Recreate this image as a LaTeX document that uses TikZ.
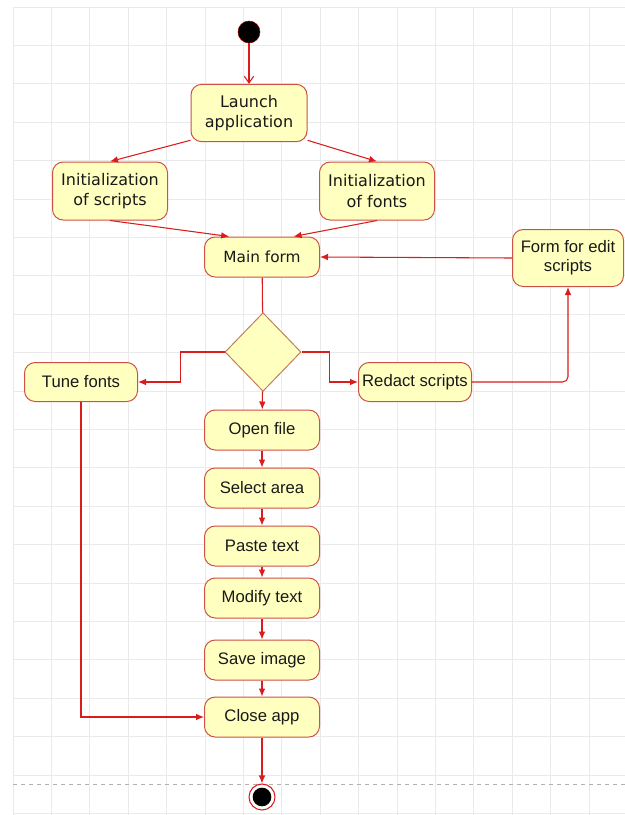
\documentclass[tikz,border=0pt]{standalone}
\usepackage{fontspec}
\setmainfont{Liberation Sans}
\newfontfamily\verdanafont{DejaVu Sans}
\usetikzlibrary{shapes.geometric,arrows.meta}

\definecolor{actfill}{RGB}{255,255,192}
\definecolor{boxred}{RGB}{206,80,70}
\definecolor{diamondedge}{RGB}{190,128,92}
\definecolor{linered}{RGB}{218,28,28}
\definecolor{gridgray}{RGB}{234,234,234}
\definecolor{textgray}{RGB}{25,25,25}

\tikzset{
  activity/.style={rectangle, rounded corners=8pt, draw=boxred, fill=actfill,
    text=textgray, align=center, inner sep=2pt, line width=0.75pt,
    minimum width=86.25pt, minimum height=30pt,
    font=\fontsize{12.5}{14.5}\selectfont},
  bigactivity/.style={activity, minimum height=43pt,
    font=\verdanafont\fontsize{12}{15.5}\selectfont},
  flow/.style={draw=linered, line width=0.8pt, -{Latex[length=6pt,width=5pt]}},
}

\begin{document}
\begin{tikzpicture}[x=0.75pt,y=0.75pt,yscale=-1,xscale=1]
  \useasboundingbox (0,0) rectangle (625,815);
  % background grid
  \draw[gridgray, line width=0.6pt, shift={(13,7)}, step=38.4] (0,0) grid (612,808);
  \draw[gray!60, dashed, line width=0.6pt] (13,784) -- (625,784);

  % nodes
  \node[circle, fill=black, draw={rgb,255:red,150;green,0;blue,0}, minimum size=16.5pt, inner sep=0pt] (start) at (249,32) {};
  \node[bigactivity, minimum width=87pt] (launch) at (249,113) {Launch\\application};
  \node[bigactivity, minimum height=43.5pt] (initscr) at (110,191) {Initialization\\of scripts};
  \node[bigactivity, minimum height=43.5pt] (initfnt) at (377,191) {Initialization\\of fonts};
  \node[activity, font=\verdanafont\fontsize{11.5}{14}\selectfont] (mainform) at (262,257) {Main form};
  \node[activity, minimum width=83.25pt, minimum height=42.75pt] (editform) at (568,258) {Form for edit\\scripts};
  \node[diamond, draw=diamondedge, fill=actfill, line width=0.75pt, inner sep=0pt, minimum width=57pt, minimum height=59pt] (decide) at (263,352) {};
  \node[activity, minimum width=84.75pt, minimum height=29.25pt] (tune) at (81,382) {Tune fonts};
  \node[activity, minimum width=84.75pt, minimum height=29.25pt] (redact) at (415,382) {Redact scripts};
  \node[activity] (openfile) at (262,430) {Open file};
  \node[activity] (selarea) at (262,488) {Select area};
  \node[activity] (paste) at (262,546) {Paste text};
  \node[activity] (modify) at (262,598) {Modify text};
  \node[activity] (saveimg) at (262,660) {Save image};
  \node[activity] (closeapp) at (262,717) {Close app};
  \node[circle, draw=linered, fill=white, line width=0.8pt, minimum size=19.5pt, inner sep=0pt,
    path picture={\fill[black] (path picture bounding box.center) circle (7pt);}] (finish) at (262,797) {};

  % connectors
  \draw[draw=linered, line width=0.8pt, -{Straight Barb[length=5pt,width=7pt]}] (start) -- (launch);
  \draw[flow] (launch.205) -- (initscr.north);
  \draw[flow] (launch.335) -- (initfnt.north);
  \draw[flow] (initscr.south) -- (mainform.148);
  \draw[flow] (initfnt.south) -- (mainform.33);
  \draw[flow] (editform.west) -- (mainform.east);
  \draw[draw=linered, line width=0.8pt] (mainform) -- (decide);
  \draw[flow] (decide.west) -- ++(-44,0) |- (tune.east);
  \draw[flow] (decide.east) -- ++(28,0) |- (redact.west);
  \draw[flow, rounded corners=4pt] (redact.east) -| (editform.south);
  \draw[flow] (decide) -- (openfile);
  \draw[flow] (openfile) -- (selarea);
  \draw[flow] (selarea) -- (paste);
  \draw[flow] (paste) -- (modify);
  \draw[flow] (modify) -- (saveimg);
  \draw[flow] (saveimg) -- (closeapp);
  \draw[flow] (tune.south) |- (closeapp.west);
  \draw[flow] (closeapp) -- (finish);
\end{tikzpicture}
\end{document}
